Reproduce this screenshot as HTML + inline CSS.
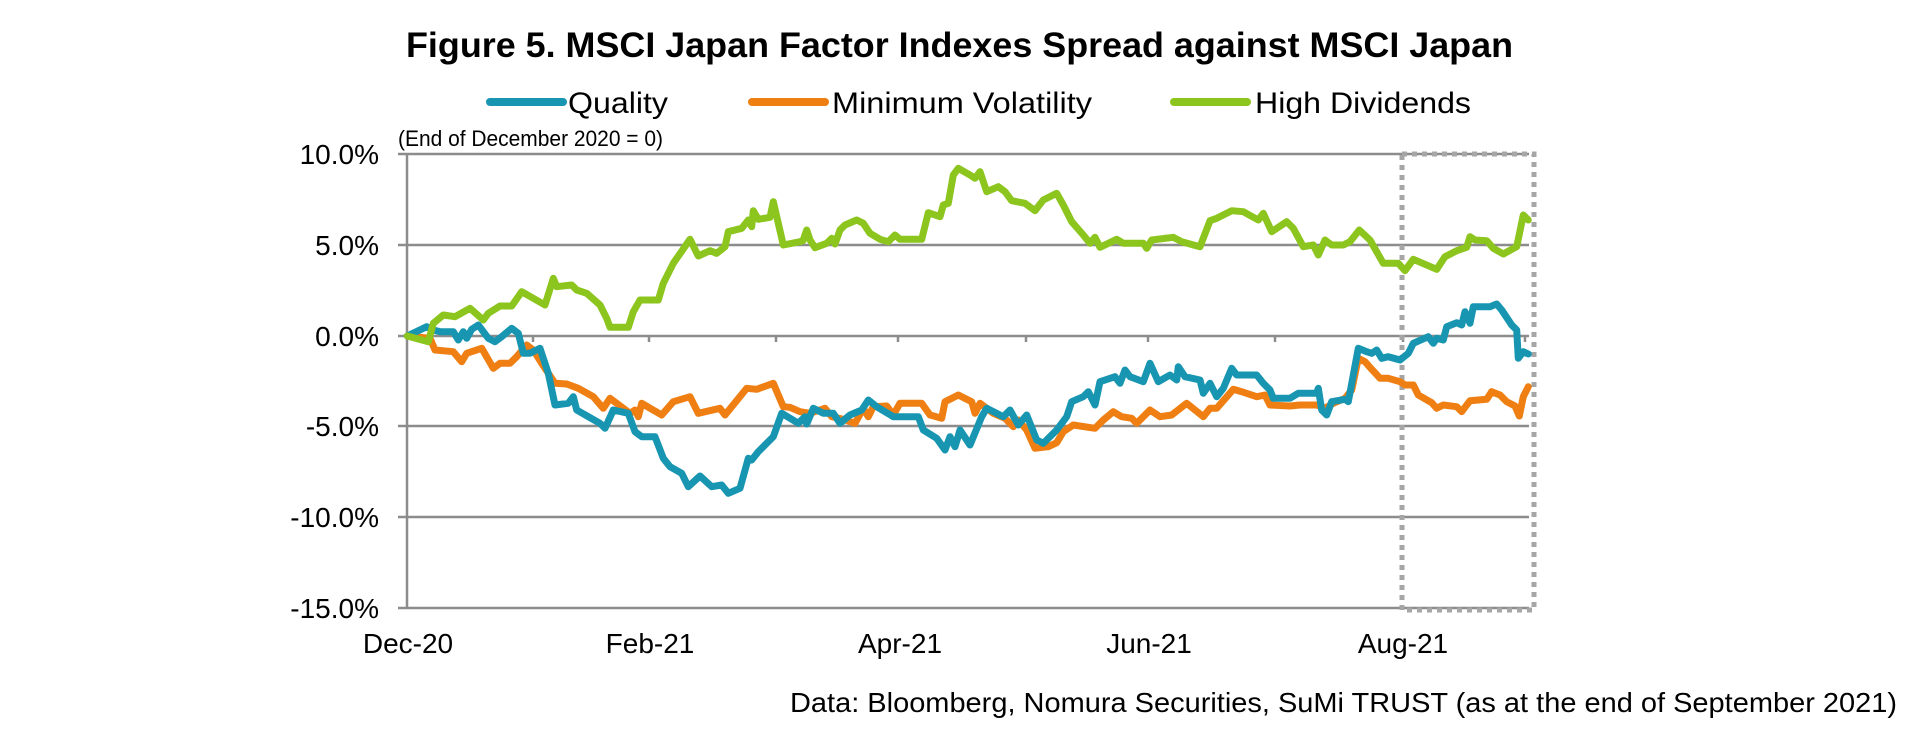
<!DOCTYPE html>
<html><head><meta charset="utf-8"><style>
html,body{margin:0;padding:0;background:#fff;}
svg{display:block;}
text{font-family:"Liberation Sans",Arial,sans-serif;fill:#000;}
</style></head><body>
<svg width="1920" height="739" viewBox="0 0 1920 739" xmlns="http://www.w3.org/2000/svg">
<rect width="1920" height="739" fill="#fff"/>
<text x="406" y="57" font-size="35" font-weight="bold" textLength="1107" lengthAdjust="spacingAndGlyphs">Figure 5. MSCI Japan Factor Indexes Spread against MSCI Japan</text>
<g stroke-width="8" stroke-linecap="round">
<line x1="490" y1="102" x2="563" y2="102" stroke="#1896b1"/>
<line x1="752" y1="102" x2="825" y2="102" stroke="#ef7f13"/>
<line x1="1174" y1="102" x2="1247" y2="102" stroke="#8cc51e"/>
</g>
<g font-size="30">
<text x="568" y="113" textLength="100" lengthAdjust="spacingAndGlyphs">Quality</text>
<text x="832" y="113" textLength="260" lengthAdjust="spacingAndGlyphs">Minimum Volatility</text>
<text x="1255" y="113" textLength="216" lengthAdjust="spacingAndGlyphs">High Dividends</text>
</g>
<text x="398" y="146" font-size="22" textLength="265" lengthAdjust="spacingAndGlyphs">(End of December 2020 = 0)</text>
<g stroke="#8c8c8c" stroke-width="2.5" fill="none">
<line x1="398" y1="154" x2="1529" y2="154"/>
<line x1="398" y1="245" x2="1529" y2="245"/>
<line x1="398" y1="336" x2="1529" y2="336"/>
<line x1="398" y1="426" x2="1529" y2="426"/>
<line x1="398" y1="517" x2="1529" y2="517"/>
<line x1="398" y1="608" x2="1529" y2="608"/>
<line x1="407" y1="154" x2="407" y2="608"/>
<path d="M533 336V342M649 336V342M776 336V342M898 336V342M1026 336V342M1148 336V342M1275 336V342M1403 336V342M1525 336V342"/>
</g>
<g font-size="28" text-anchor="end">
<text x="379" y="164">10.0%</text>
<text x="379" y="255">5.0%</text>
<text x="379" y="346">0.0%</text>
<text x="379" y="436">-5.0%</text>
<text x="379" y="527">-10.0%</text>
<text x="379" y="618">-15.0%</text>
</g>
<g font-size="28" text-anchor="middle">
<text x="408" y="653">Dec-20</text>
<text x="650" y="653">Feb-21</text>
<text x="900" y="653">Apr-21</text>
<text x="1149" y="653">Jun-21</text>
<text x="1403" y="653">Aug-21</text>
</g>
<text x="1897" y="712" font-size="28" text-anchor="end" textLength="1107" lengthAdjust="spacingAndGlyphs">Data: Bloomberg, Nomura Securities, SuMi TRUST (as at the end of September 2021)</text>
<rect x="1402" y="154" width="132" height="456" fill="none" stroke="#a6a6a6" stroke-width="5" stroke-dasharray="5 5"/>
<g fill="none" stroke-width="7" stroke-linejoin="round" stroke-linecap="round">
<polyline stroke="#ef7f13" points="407.3,336 430,338.3 435,350 453.3,351.7 461.7,361.7 466.7,353.3 481.7,348.3 493.3,368.3 500,363.3 510,363.3 516.7,356.7 526.7,345 533.3,350 541.7,363.3 555,383.3 566.7,384 578.3,388.3 593.3,396.7 603.3,408.3 610,398.3 630,413.3 635,410 638.3,416.7 641.7,403.3 661.7,415 673.3,401.7 690,396.7 698.3,413.3 720,408.3 725,415 746.7,388.3 756.7,389.3 773.3,383.3 783.3,406.7 790,407.3 800,411.7 810,413.3 825,408.3 831.7,416.7 843.3,419.3 855,423.3 863.3,408.3 868.3,416.7 873.3,406.7 886.7,406 893.3,415 900,403.3 921.7,403.3 930,415 941.7,418.3 945,401.7 958.3,395 971.7,401.7 975,413.3 980,403.3 993.3,413.3 1005,418.3 1013.3,426.7 1018.3,420 1026.7,430 1035,448.3 1048.3,446.7 1056.7,442.7 1063.3,431.7 1073.3,425 1095,428.3 1103.3,420 1113.3,411.7 1121.7,416.7 1131.7,418.3 1136.7,423.3 1150,410 1160,416.7 1171.7,415 1186.7,403.3 1203.3,416.7 1210,408.3 1216.7,408.3 1233.3,389.3 1241.7,391.7 1256.7,396.7 1265,395 1270,405 1290,406 1300,405 1316.7,405 1325,408.3 1333.3,403.3 1345,398.3 1351.7,390 1358.3,358.3 1365,361.7 1371.7,369.3 1380,378.3 1388.3,378.3 1400,381.7 1405,385 1413.3,385 1418.3,395 1431.7,402.7 1436.7,408.3 1443.3,405 1456.7,406.7 1461.7,411.7 1470,400.7 1486.7,399.3 1491.7,391.7 1500,395 1506.7,401.7 1515,406 1519.3,416 1523.3,396.7 1528.3,386.7"/>
<polyline stroke="#1896b1" points="407.3,336 426.7,326.7 433.3,330 440,331.7 453.3,331.7 458.3,340 463.3,331.7 466.7,338.3 471.7,329.3 478.3,325 488.3,338.3 495,341.7 501.7,336.7 511.7,328.3 518.3,333.3 523.3,353.3 530,353.3 540,348.3 548.3,373.3 555,405 568.3,403.3 573.3,396.7 576.7,410 588.3,416.7 600,423.3 605,428.3 613.3,410 628.3,413.3 635,431.7 641.7,436.7 655,436.7 663.3,458.3 670,466.7 681.7,473.3 688.3,486.7 700,476 711.7,486.7 721.7,485 728.3,493.3 740,488.3 748.3,458.3 751.7,460 758.3,451.7 773.3,436.7 781.7,413.3 790,418.3 798.3,423.3 805,416.7 806.7,424 813.3,408.3 823.3,413.3 833.3,413.3 840,423.3 850,415 861.7,410 868.3,400 876.7,406.7 893.3,416.7 918.3,416.7 923.3,430 936.7,438.3 945,450 950,436.7 955,446.7 960,430 970,445 981.7,416.7 986.7,408.3 1003.3,416.7 1010,410 1018.3,425 1026.7,415 1036.7,440 1043.3,443.3 1056.7,430 1066.7,416.7 1071.7,401.7 1083.3,396.7 1088.3,391.7 1095,405 1100,381.7 1115,376.7 1120,383.3 1125,370 1130,376.7 1143.3,381.7 1150,363.3 1158.3,381.7 1170,375 1176.7,380 1178.3,366.7 1185,376.7 1200,380 1203.3,393.3 1210,383.3 1216.7,396.7 1223.3,388.3 1231.7,368.3 1236.7,375 1256.7,375 1263.3,383.3 1270,390 1273.3,398.3 1290,398.3 1298.3,393.3 1316.7,393.3 1318.3,388.3 1321.7,410 1326.7,415 1331.7,401.7 1345,399.3 1348.3,401.7 1358.3,348.3 1366.7,351.7 1371.7,353.3 1376.7,350 1381.7,358.3 1388.3,356.7 1400,360 1408.3,353.3 1413.3,343.3 1428.3,336.7 1433.3,343.3 1436.7,338.3 1443.3,340 1446.7,326.7 1456.7,322.7 1461.7,325 1465,311.7 1470,323.3 1473.3,306.7 1490,306.7 1496.7,304 1501.7,310 1511.7,325 1516.7,330 1518.3,358.3 1523.3,351.7 1528.3,354"/>
<polyline stroke="#8cc51e" points="407.3,336 428.3,341.7 433.3,323.3 443.3,315 455,316.7 470,308.3 483.3,320 488.3,313.3 500,306 511.7,306 521.7,291.7 545,305 553.3,278.3 556.7,286.7 571.7,285 576.7,290 586.7,293.3 600,305 606.7,318.3 610,327.3 628.3,327.3 633.3,311.7 640,300 658.3,300 663.3,283.3 673.3,263.3 690,239.3 698.3,256 710,250.7 716.7,253.3 725,246.7 728.3,231.7 741.7,228.3 748.3,220 751.7,226.7 753.3,210.7 758.3,219.3 770,217.3 773.3,201.7 783.3,245 800,241.7 803,240.7 806.7,230 810,240 815,247.7 826.7,243.3 831.7,238.3 835,244 840,230 845,225 856.7,220 863.3,223.3 870,233.3 880,239.3 888.3,241.7 895,235 900,239.3 921.7,239.3 928.3,212.7 940,216.7 943.3,205 948.3,203.3 953.3,175 958.3,168.3 970,175 975,178.3 980,171.7 986.7,191.7 998.3,186.7 1005,191.7 1011.7,200.7 1025,203.3 1035,210.7 1043.3,200 1056.7,193.3 1063.3,205 1071.7,221.7 1083.3,235 1090,243.3 1095,237.3 1100,247.3 1116.7,239.3 1123.3,243.3 1143.3,243.3 1146.7,248.3 1151.7,240 1173.3,237.3 1181.7,241.7 1200,246.7 1210,220.7 1216.7,218.3 1231.7,210.7 1243.3,211.7 1258.3,220 1263.3,213.3 1271.7,231.7 1286.7,221.7 1293.3,228.3 1303.3,246.7 1313.3,245 1318.3,255 1325,240 1331.7,245 1343.3,245 1350,241.7 1359.3,230 1370,240 1383.3,263.3 1398.3,263.3 1405,270.7 1413.3,259.3 1436.7,269.3 1445,256.7 1456.7,250.7 1466.7,247.3 1470,236.7 1475,240 1486.7,240.7 1493.3,248.3 1503.3,254 1516.7,246.7 1523.3,215 1528.3,220"/>
</g>
</svg>
</body></html>
